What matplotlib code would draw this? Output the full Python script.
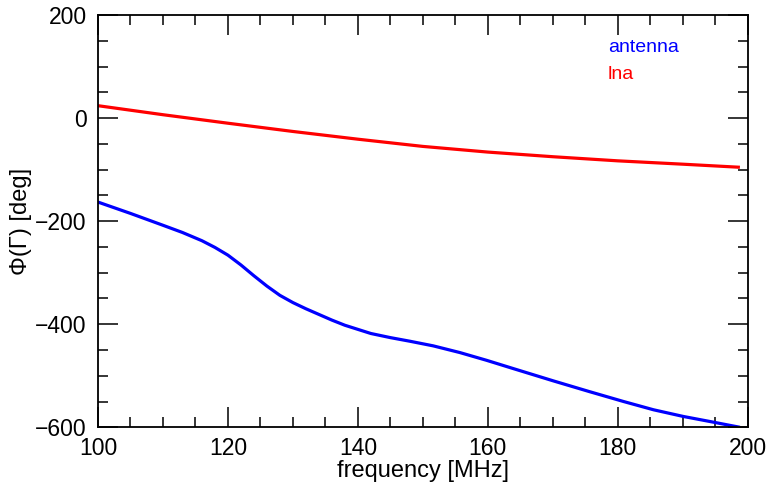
import numpy as np
import matplotlib
matplotlib.use('Agg')
import matplotlib.pyplot as plt
from matplotlib.ticker import MultipleLocator

plt.rcParams['font.family'] = ['Liberation Sans', 'DejaVu Sans']

# antenna phase
f_ant = [100, 105, 110, 113, 116, 118, 120, 122, 124, 126, 128, 130, 132, 134, 136, 138, 140,
         142, 145, 148, 151.6, 155.7, 159.8, 163.9, 170.1, 175.7, 180.9, 185.5, 190.1, 194.7, 198.8]
ph_ant = [-163, -185, -208, -222, -238, -251, -266, -285, -306, -326, -344, -358, -370, -381, -392, -402, -410,
          -418, -426, -433, -442, -455, -470, -486, -510, -531, -550, -566, -579, -590, -600]

# lna phase
f_lna = [100, 110, 120, 130, 140, 150, 160, 170, 180, 190, 198.8]
ph_lna = [24, 6.5, -10, -26, -41, -55, -66, -75, -83, -89.5, -95.5]

fig = plt.figure(figsize=(7.69, 4.88), dpi=100)
ax = fig.add_axes([0.1274, 0.1244, 0.9723 - 0.1274, 0.9693 - 0.1244])

ax.plot(f_ant, ph_ant, color='#0000ff', lw=2.3, solid_capstyle='butt', solid_joinstyle='round')
ax.plot(f_lna, ph_lna, color='#ff0000', lw=2.3, solid_capstyle='butt', solid_joinstyle='round')

ax.set_xlim(100, 200)
ax.set_ylim(-600, 200)
ax.xaxis.set_major_locator(MultipleLocator(20))
ax.xaxis.set_minor_locator(MultipleLocator(5))
ax.yaxis.set_major_locator(MultipleLocator(200))
ax.yaxis.set_minor_locator(MultipleLocator(50))
ax.tick_params(which='both', direction='in', top=True, right=True, width=1.1, labelsize=16.5)
ax.tick_params(which='major', length=14.5)
ax.tick_params(which='minor', length=7.2)
ax.tick_params(axis='x', pad=7)
ax.tick_params(axis='y', pad=8)
for s in ax.spines.values():
    s.set_linewidth(1.3)

ax.set_xlabel('frequency [MHz]', fontsize=17, labelpad=0)
ax.set_ylabel('Φ(Γ) [deg]', fontsize=17, labelpad=2)

ax.text(0.785, 0.92, 'antenna', color='#0000ff', fontsize=14, transform=ax.transAxes, va='center')
ax.text(0.785, 0.855, 'lna', color='#ff0000', fontsize=14, transform=ax.transAxes, va='center')

fig.savefig('out.png', dpi=100)
